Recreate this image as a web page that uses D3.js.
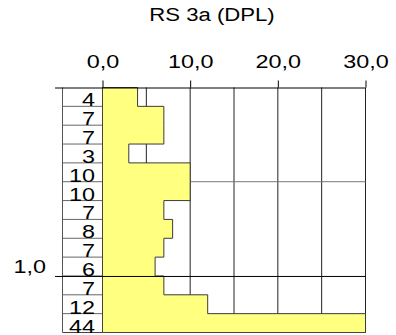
<!DOCTYPE html>
<html>
<head>
<meta charset="utf-8">
<script src="https://cdn.jsdelivr.net/npm/d3@7/dist/d3.min.js"></script>
<style>
  html, body { margin: 0; padding: 0; background: #fff; }
  svg { display: block; }
  text { font-family: "Liberation Sans", Arial, sans-serif; fill: #000; }
</style>
</head>
<body>
<svg id="chart" width="396" height="335"></svg>
<script>
// Layer profile: one value per 0.1 depth interval
const chartTitle = "RS 3a (DPL)";
const layerTops = [0.0, 0.1, 0.2, 0.3, 0.4, 0.5, 0.6, 0.7, 0.8, 0.9, 1.0, 1.1, 1.2];
const layerValues = [4, 7, 7, 3, 10, 10, 7, 8, 7, 6, 7, 12, 44];
const layerThickness = 0.1;
const xTickValues = [0, 10, 20, 30];
const xGridValues = [5, 10, 15, 20, 25, 30];
const depthTickValues = [0.0, 1.0];
const depthGridValues = [0.5];

const locale = d3.formatLocale({ decimal: ",", thousands: ".", grouping: [3], currency: ["", ""] });
const fmt = locale.format(".1f");

const svg = d3.select("#chart");
const maxDepth = layerTops[layerTops.length - 1] + layerThickness;

const x = d3.scaleLinear().domain([0, 30]).range([102.5, 365.5]).clamp(true);
const y = d3.scaleLinear().domain([0, maxDepth]).range([87.5, 332.5]);

const tableLeft = 62.5;
const tickLeft = 55;
const stretch = 1.3;
const fontSize = 18;

// Vertical grid lines
svg.append("g")
  .selectAll("line")
  .data(xGridValues)
  .join("line")
  .attr("x1", d => x(d)).attr("x2", d => x(d))
  .attr("y1", y(0)).attr("y2", y(maxDepth))
  .attr("stroke", "#222").attr("stroke-width", 1);

// Horizontal grid lines inside the plot
svg.append("g")
  .selectAll("line")
  .data(depthGridValues)
  .join("line")
  .attr("x1", x(0)).attr("x2", x(30))
  .attr("y1", d => y(d)).attr("y2", d => y(d))
  .attr("stroke", "#777").attr("stroke-width", 1);

// Stepped profile area
const pts = [[0, 0]];
layerTops.forEach((t, i) => {
  pts.push([layerValues[i], t]);
  pts.push([layerValues[i], t + layerThickness]);
});
pts.push([0, maxDepth]);
const line = d3.line().x(d => x(d[0])).y(d => y(d[1]));
svg.append("path")
  .attr("d", line(pts) + "Z")
  .attr("fill", "#ffff80")
  .attr("stroke", "#3a3a3a")
  .attr("stroke-width", 1);

// Left value table: border and row separators
svg.append("line")
  .attr("x1", tableLeft).attr("x2", tableLeft)
  .attr("y1", y(0)).attr("y2", y(maxDepth))
  .attr("stroke", "#555");
svg.append("g")
  .selectAll("line")
  .data(layerTops.slice(1))
  .join("line")
  .attr("x1", tableLeft).attr("x2", x(0))
  .attr("y1", d => y(d)).attr("y2", d => y(d))
  .attr("stroke", "#666");

// Bottom and left border of the plot
svg.append("line")
  .attr("x1", tableLeft).attr("x2", x(30))
  .attr("y1", y(maxDepth)).attr("y2", y(maxDepth))
  .attr("stroke", "#444");
svg.append("line")
  .attr("x1", x(0)).attr("x2", x(0))
  .attr("y1", y(0)).attr("y2", y(maxDepth))
  .attr("stroke", "#444");

// Row value labels
svg.append("g")
  .selectAll("text")
  .data(layerValues)
  .join("text")
  .attr("transform", (d, i) => `translate(95,${y(layerTops[i] + layerThickness)}) scale(${stretch},1)`)
  .attr("text-anchor", "end")
  .attr("font-size", fontSize)
  .text(d => d);

// Depth axis: long ticks from the left margin across the plot
const yAxis = d3.axisLeft(y)
  .tickValues(depthTickValues)
  .tickSize(-(x(30) - tickLeft))
  .tickPadding(9)
  .tickFormat(d => d === 0 ? "" : fmt(d));
const gy = svg.append("g")
  .attr("transform", `translate(${tickLeft},0)`)
  .call(yAxis);
gy.select(".domain").remove();
gy.selectAll(".tick line").attr("stroke", "#000");
gy.selectAll(".tick text")
  .attr("font-size", fontSize)
  .attr("font-family", null)
  .attr("text-anchor", "end")
  .attr("x", null).attr("dy", null)
  .attr("y", -3)
  .attr("transform", `translate(-9,0) scale(${stretch},1)`);

// Value axis on top
const xAxis = d3.axisTop(x)
  .tickValues(xTickValues)
  .tickSize(7)
  .tickPadding(13)
  .tickFormat(fmt);
const gx = svg.append("g")
  .attr("transform", `translate(0,${y(0)})`)
  .call(xAxis);
gx.select(".domain").remove();
gx.selectAll(".tick line").attr("stroke", "#000");
gx.selectAll(".tick text")
  .attr("font-size", fontSize)
  .attr("font-family", null)
  .attr("transform", `scale(${stretch},1)`);

// Title
svg.append("text")
  .attr("transform", `translate(212,21) scale(1.23,1)`)
  .attr("text-anchor", "middle")
  .attr("font-size", fontSize)
  .text(chartTitle);
</script>
</body>
</html>
